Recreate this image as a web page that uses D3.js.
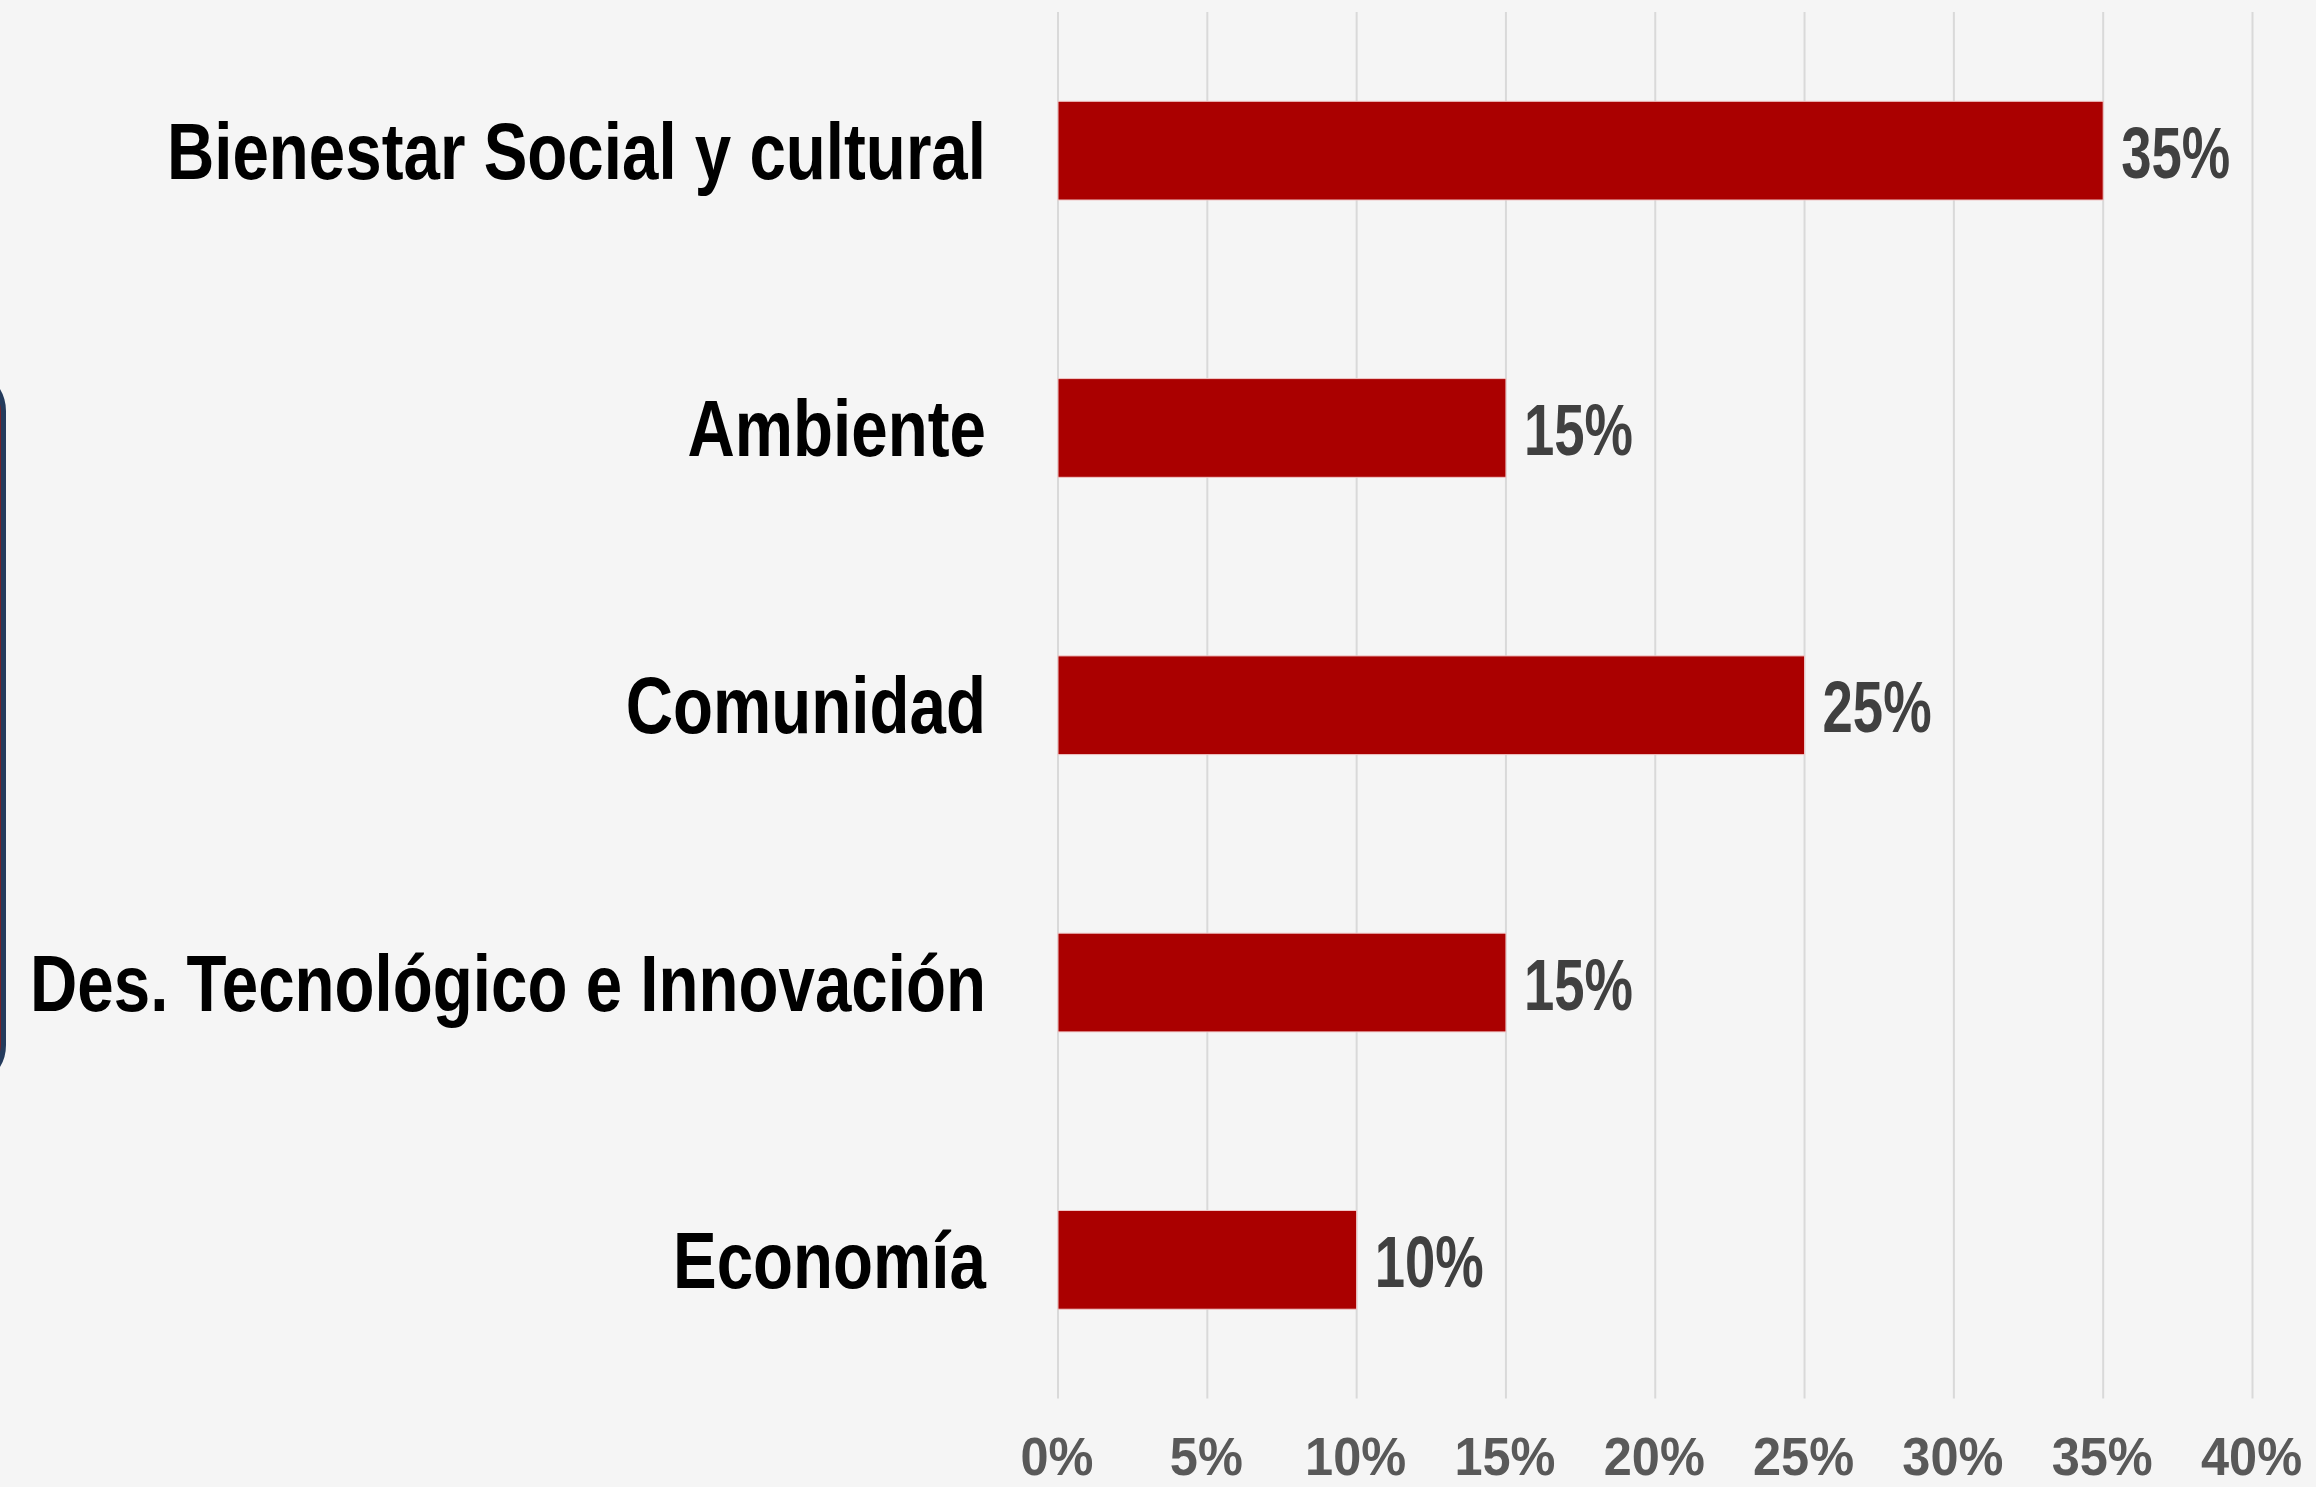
<!DOCTYPE html>
<html><head><meta charset="utf-8">
<script src="https://cdn.jsdelivr.net/npm/d3@7"></script>
<style>html,body{margin:0;padding:0;background:#f5f5f5;overflow:hidden}</style>
</head><body>
<svg id="c" width="2316" height="1487"></svg>
<script>
const categories = ["Bienestar Social y cultural","Ambiente","Comunidad","Des. Tecnológico e Innovación","Economía"];
const values = [0.35,0.15,0.25,0.15,0.10];
const tickValues = [0,0.05,0.10,0.15,0.20,0.25,0.30,0.35,0.40];
const tickLabels = ["0%","5%","10%","15%","20%","25%","30%","35%","40%"];

const svg = d3.select("#c");
const FONT = "'Liberation Sans','Arial',sans-serif";
svg.append("rect").attr("width",2316).attr("height",1487).attr("fill","#f5f5f5");

// left decoration (edge of rounded box)
svg.append("rect").attr("x",-400).attr("y",371).attr("width",403).attr("height",714)
  .attr("rx",40).attr("fill","none").attr("stroke","#243b5c").attr("stroke-width",6);
svg.append("rect").attr("x",-400).attr("y",374).attr("width",400).attr("height",708)
  .attr("rx",38).attr("fill","none").attr("stroke","#8b1a1a").attr("stroke-width",1.5);

const x = d3.scaleLinear().domain([0,0.40]).range([1058,2252.5]);
const y = d3.scaleBand().domain(categories).range([12,1398.5]).paddingInner(0.644).paddingOuter(0.322);

// gridlines
svg.append("g").selectAll("line").data(tickValues).join("line")
  .attr("x1",d=>x(d)).attr("x2",d=>x(d)).attr("y1",12).attr("y2",1398.5)
  .attr("stroke","#d9d9d9").attr("stroke-width",2);

// measure helper for narrow emulation
function narrowScale(sample, size, target){
  const t = svg.append("text").style("font-family",FONT).style("font-weight","bold").style("font-size",size+"px").text(sample);
  const w = t.node().getComputedTextLength(); t.remove();
  return target / w;
}
const sCat = narrowScale("Des. Tecnológico e Innovación", 80, 956);
const sVal = narrowScale("35%", 72, 109);
const sTick = narrowScale("40%", 54, 103);

// x axis labels
const tickY = 1475;
svg.append("g").selectAll("text").data(tickValues).join("text")
  .attr("transform",d=>`translate(${x(d)-1},${tickY}) scale(${sTick},1)`)
  .attr("text-anchor","middle").attr("fill","#595959")
  .style("font-family",FONT).style("font-weight","bold").style("font-size","53px")
  .text((d,i)=>tickLabels[i]);

// bars
svg.append("g").selectAll("rect").data(values).join("rect")
  .attr("x",x(0)).attr("y",(d,i)=>y(categories[i]))
  .attr("width",d=>x(d)-x(0)).attr("height",y.bandwidth())
  .attr("fill","#aa0000").attr("stroke","#f0c8c8").attr("stroke-width",1);

// value labels
svg.append("g").selectAll("text").data(values).join("text")
  .attr("transform",(d,i)=>`translate(${x(d)+18},${y(categories[i])+y.bandwidth()/2+27}) scale(${sVal},1)`)
  .attr("fill","#404040").style("font-family",FONT).style("font-weight","bold").style("font-size","72px")
  .text(d=>Math.round(d*100)+"%");

// category labels
svg.append("g").selectAll("text").data(categories).join("text")
  .attr("transform",d=>`translate(986,${y(d)+y.bandwidth()/2+28}) scale(${sCat},1)`)
  .attr("text-anchor","end").attr("fill","#000").style("font-family",FONT).style("font-weight","bold").style("font-size","80px")
  .text(d=>d);
</script>
</body></html>
